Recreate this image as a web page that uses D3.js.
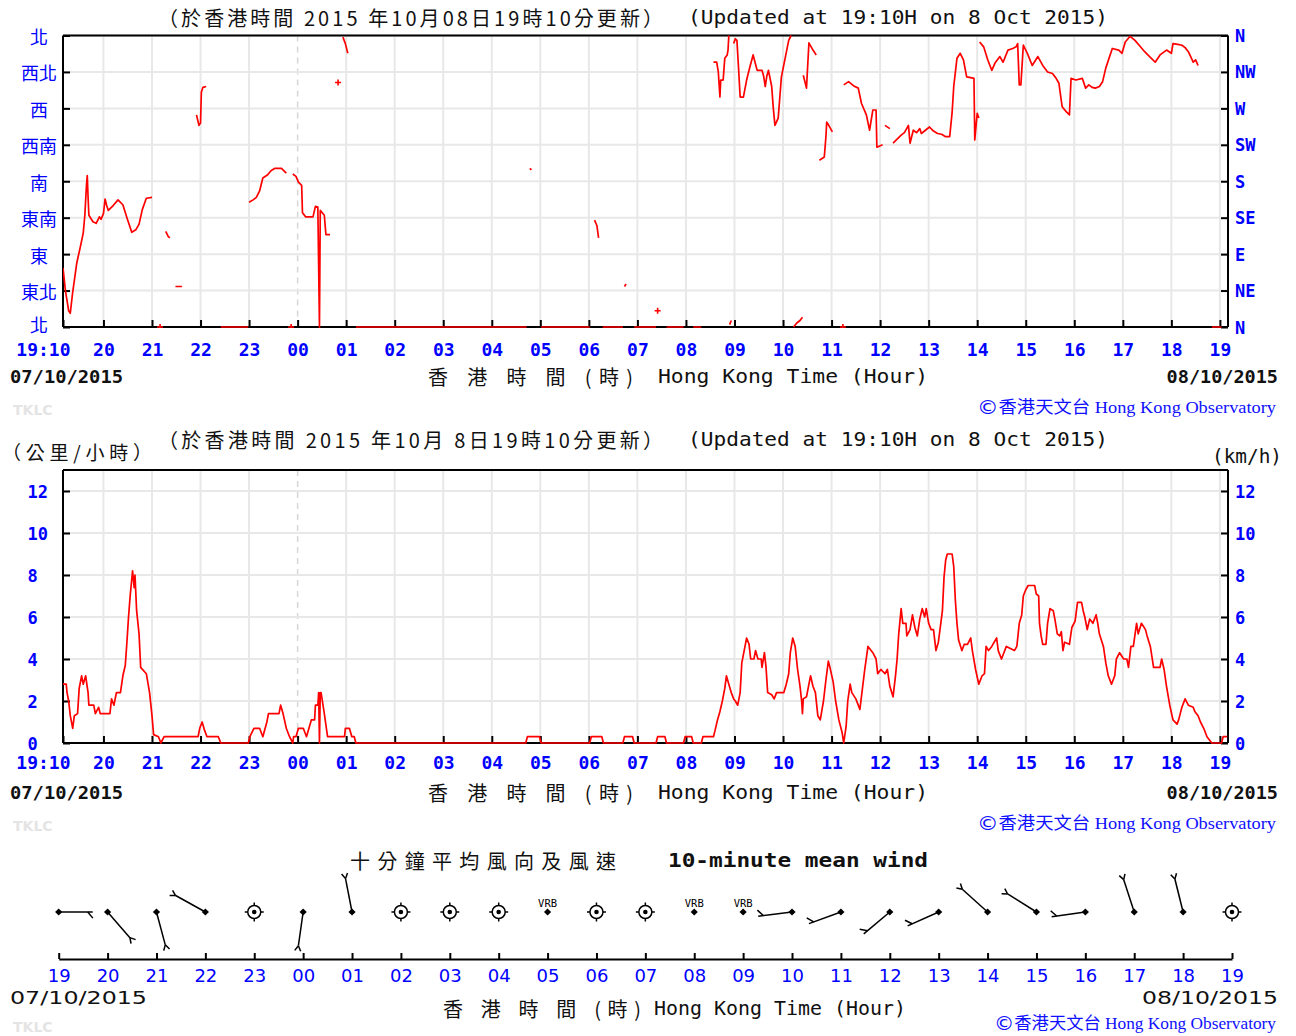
<!DOCTYPE html>
<html>
<head>
<meta charset="utf-8">
<script src="https://cdn.jsdelivr.net/npm/d3@7"></script>
<style>
  body { margin: 0; background: #fff; }
</style>
</head>
<body>
<div id="chart"></div>
<script>
// ---- values ----
var dirTicks = [0, 45, 90, 135, 180, 225, 270, 315, 360];
var dirLabelsCn = ["北", "東北", "東", "東南", "南", "西南", "西", "西北", "北"];
var dirLabelsEn = ["N", "NE", "E", "SE", "S", "SW", "W", "NW", "N"];
var speedTicks = [0, 2, 4, 6, 8, 10, 12];

// wind direction trace (degrees), null = no data
var dirReadings = [
  ["19:10",73],["19:13",45],["19:17",20],["19:19",17],["19:22",43],["19:27",79],["19:31",97],["19:35",116],
  ["19:37",138],["19:39",175],["19:40",187],["19:41",160],["19:42",138],["19:47",130],["19:51",128],["19:55",136],
  ["19:57",133],["20:00",140],["20:02",158],["20:04",150],["20:06",144],["20:12",150],["20:18",157],["20:24",151],
  ["20:29",135],["20:35",117],["20:40",120],["20:44",127],["20:48",145],["20:53",159],["21:00",160],["21:05",null],
  ["21:10",0],["21:12",null],
  ["21:17",118],["21:20",112],["21:22",110],["21:25",null],
  ["21:29",50],["21:37",50],["21:40",null],
  ["21:55",262],["21:58",249],["22:00",252],["22:01",290],["22:03",296],["22:07",297],["22:10",null],
  ["22:25",0],["22:59",0],["22:59",null],
  ["23:00",154],["23:05",157],["23:09",160],["23:13",168],["23:17",184],["23:23",188],["23:27",193],["23:32",196],
  ["23:40",196],["23:46",190],["23:48",null],
  ["23:52",0],["23:53",null],
  ["23:54",189],["23:58",186],["00:01",179],["00:05",175],["00:06",141],["00:10",136],["00:19",136],["00:22",149],
  ["00:25",148],["00:27",0],["00:28",144],["00:33",138],["00:35",114],["00:40",114],["00:42",null],
  ["00:50",302],["00:52",null],
  ["00:56",358],["00:59",350],["01:02",338],["01:05",null],
  ["01:12",0],["04:43",0],["04:45",null],
  ["04:47",196],["04:49",194],["04:50",null],
  ["05:01",0],["06:01",0],["06:03",null],
  ["06:07",132],["06:10",125],["06:12",110],["06:14",null],
  ["06:17",0],["06:42",0],["06:43",null],
  ["06:44",50],["06:46",53],["06:47",null],
  ["06:56",0],["07:23",0],["07:24",null],
  ["07:25",20],["07:26",null],
  ["07:36",0],["07:57",0],["07:58",null],
  ["08:09",0],["08:19",0],["08:20",null],
  ["08:34",327],["08:38",327],["08:40",315],["08:42",284],["08:43",305],["08:46",305],["08:48",332],["08:51",336],
  ["08:52",342],["08:53",360],["08:54",null],
  ["08:54",3],["08:56",8],["08:57",null],
  ["08:59",350],["09:01",356],["09:03",354],["09:05",320],["09:07",284],["09:11",284],["09:15",305],["09:19",321],
  ["09:23",336],["09:28",317],["09:34",317],["09:36",310],["09:38",297],["09:40",310],["09:42",317],["09:46",297],
  ["09:48",270],["09:50",249],["09:54",258],["09:58",309],["10:03",334],["10:07",354],["10:10",360],["10:11",null],
  ["10:13",0],["10:17",5],["10:21",8],["10:24",12],["10:25",null],
  ["10:25",311],["10:29",295],["10:32",351],["10:37",342],["10:41",336],["10:43",null],
  ["10:45",206],["10:51",210],["10:53",235],["10:54",253],["10:56",250],["11:01",241],["11:03",null],
  ["11:14",0],["11:15",null],
  ["11:15",299],["11:21",303],["11:27",298],["11:33",295],["11:37",276],["11:43",262],["11:47",243],["11:51",268],
  ["11:55",268],["11:56",222],["12:03",225],["12:04",null],
  ["12:06",249],["12:12",245],["12:14",null],
  ["12:16",227],["12:21",232],["12:26",237],["12:30",240],["12:35",249],["12:37",227],["12:41",243],["12:45",240],
  ["12:49",245],["12:51",239],["12:56",243],["13:01",247],["13:06",242],["13:11",239],["13:16",238],["13:21",235],
  ["13:26",235],["13:29",265],["13:31",297],["13:35",332],["13:39",338],["13:43",330],["13:47",309],["13:52",308],
  ["13:56",307],["13:57",231],["14:00",264],["14:02",258],["14:02",null],
  ["14:03",352],["14:08",346],["14:13",330],["14:18",317],["14:22",326],["14:28",334],["14:32",327],["14:38",342],
  ["14:44",344],["14:48",346],["14:50",350],["14:52",299],["14:54",299],["14:57",348],["15:02",338],["15:08",323],
  ["15:15",334],["15:21",323],["15:27",315],["15:33",313],["15:37",308],["15:41",301],["15:45",272],["15:50",266],
  ["15:54",262],["15:56",307],["16:02",305],["16:10",307],["16:14",295],["16:18",299],["16:22",296],["16:26",295],
  ["16:31",297],["16:35",303],["16:39",320],["16:47",344],["16:55",342],["16:59",338],["17:03",352],["17:09",359],
  ["17:15",354],["17:21",347],["17:27",340],["17:34",333],["17:40",327],["17:46",336],["17:54",342],["18:00",338],
  ["18:02",350],["18:08",349],["18:13",348],["18:17",345],["18:21",340],["18:27",327],["18:30",330],["18:33",323],
  ["18:35",null],
  ["18:50",0],["19:02",0]
];

// wind speed trace (km/h)
var speedReadings = [
  ["19:10",2.8],["19:14",2.8],["19:15",2.4],["19:17",2.0],["19:19",1.3],["19:22",0.7],["19:24",1.3],["19:28",1.4],
  ["19:30",2.6],["19:33",3.2],["19:35",2.8],["19:38",3.2],["19:41",2.4],["19:42",1.8],["19:48",1.8],["19:50",1.4],
  ["19:54",1.7],["19:56",1.4],["20:08",1.4],["20:10",2.1],["20:13",1.8],["20:16",2.4],["20:21",2.4],["20:24",3.2],
  ["20:27",3.7],["20:29",4.8],["20:31",6.0],["20:33",7.0],["20:36",8.2],["20:38",7.4],["20:39",8.0],["20:41",6.3],
  ["20:44",5.2],["20:46",3.6],["20:53",3.3],["20:57",2.4],["21:00",1.3],["21:02",0.4],["21:08",0.3],["21:11",0],
  ["21:15",0.3],["21:57",0.3],["21:59",0.7],["22:02",1.0],["22:05",0.6],["22:08",0.3],["22:22",0.3],["22:25",0],
  ["22:59",0],["23:01",0.3],["23:06",0.7],["23:13",0.7],["23:17",0.3],["23:22",1.0],["23:24",1.4],["23:37",1.4],
  ["23:39",1.8],["23:42",1.4],["23:46",0.7],["23:50",0.3],["23:54",0],["23:55",0.3],["23:58",0.3],["00:01",0.7],
  ["00:07",0.7],["00:11",0.3],["00:14",0.7],["00:17",1.1],["00:21",1.1],["00:22",1.8],["00:25",1.8],["00:26",2.4],
  ["00:27",0],["00:28",2.4],["00:29",2.4],["00:33",1.4],["00:37",0.3],["00:58",0.3],["00:59",0.7],["01:04",0.7],
  ["01:07",0.3],["01:10",0.3],["01:12",0],
  ["04:42",0],["04:44",0.3],["04:59",0.3],["05:01",0],["06:01",0],["06:03",0.3],["06:16",0.3],["06:18",0],
  ["06:42",0],["06:44",0.3],["06:54",0.3],["06:56",0],["07:23",0],["07:25",0.3],["07:34",0.3],["07:36",0],
  ["07:57",0],["07:59",0.3],["08:07",0.3],["08:09",0],["08:19",0],["08:21",0.3],["08:34",0.3],
  ["08:36",0.6],["08:39",1.1],["08:42",1.5],["08:45",2.0],["08:48",2.6],["08:50",3.2],["08:53",2.8],["08:56",2.4],
  ["08:59",2.1],["09:01",2.0],["09:04",1.8],["09:07",2.4],["09:09",3.8],["09:13",4.6],["09:15",5.0],["09:18",4.7],
  ["09:20",4.0],["09:24",4.0],["09:26",4.4],["09:29",4.0],["09:33",4.0],["09:34",3.6],["09:37",4.3],["09:39",3.6],
  ["09:41",2.4],["09:46",2.3],["09:49",2.1],["09:52",2.4],["10:01",2.4],["10:04",2.8],["10:07",3.3],["10:09",4.3],
  ["10:12",5.0],["10:15",4.6],["10:18",3.5],["10:21",2.7],["10:23",2.0],["10:24",1.4],["10:25",2.1],["10:29",2.2],
  ["10:32",2.8],["10:34",3.2],["10:37",2.7],["10:40",2.4],["10:43",1.3],["10:46",1.1],["10:50",2.0],["10:53",3.0],
  ["10:56",3.9],["10:58",3.6],["11:02",2.9],["11:05",2.0],["11:09",1.1],["11:13",0.5],["11:15",0],["11:18",0.8],
  ["11:20",2.0],["11:23",2.8],["11:25",2.4],["11:30",2.1],["11:35",1.6],["11:41",3.5],["11:45",4.6],["11:51",4.3],
  ["11:55",4.0],["11:57",3.3],["12:01",3.5],["12:06",3.3],["12:09",3.5],["12:12",2.7],["12:16",2.2],["12:19",3.2],
  ["12:21",4.0],["12:23",5.2],["12:26",6.4],["12:28",5.7],["12:32",5.7],["12:33",5.1],["12:37",5.4],["12:40",6.1],
  ["12:43",5.5],["12:46",5.1],["12:49",5.9],["12:52",6.4],["12:55",6.0],["12:57",6.4],["13:00",5.7],["13:03",5.4],
  ["13:06",5.4],["13:09",4.4],["13:12",4.8],["13:15",5.7],["13:17",6.3],["13:19",7.9],["13:21",8.7],["13:23",9.0],
  ["13:29",9.0],["13:31",8.4],["13:33",6.8],["13:35",5.7],["13:37",4.9],["13:41",4.4],["13:44",4.7],["13:48",4.7],
  ["13:52",5.0],["13:54",4.4],["13:58",3.5],["14:02",2.8],["14:06",3.2],["14:09",3.3],["14:11",4.6],["14:14",4.4],
  ["14:18",4.6],["14:24",5.0],["14:26",4.4],["14:30",4.0],["14:33",4.3],["14:36",4.6],["14:46",4.4],["14:49",4.6],
  ["14:52",5.7],["14:55",6.1],["14:57",7.0],["15:00",7.3],["15:03",7.5],["15:11",7.5],["15:13",7.1],["15:16",7.0],
  ["15:17",5.7],["15:19",5.1],["15:21",4.7],["15:25",4.7],["15:27",5.7],["15:30",6.4],["15:34",6.3],["15:36",5.9],
  ["15:39",5.2],["15:42",5.1],["15:44",5.3],["15:46",4.4],["15:48",4.8],["15:54",4.7],["15:57",5.5],["16:01",5.8],
  ["16:04",6.7],["16:09",6.7],["16:11",6.3],["16:13",6.0],["16:16",5.4],["16:19",5.9],["16:23",5.7],["16:27",6.1],
  ["16:29",5.7],["16:31",5.2],["16:36",4.6],["16:39",3.8],["16:42",3.2],["16:46",2.8],["16:50",3.2],["16:52",4.0],
  ["16:56",4.3],["17:01",4.0],["17:05",4.0],["17:07",3.6],["17:10",4.6],["17:13",4.6],["17:17",5.7],["17:19",5.2],
  ["17:23",5.7],["17:28",5.4],["17:30",5.1],["17:34",4.6],["17:38",3.6],["17:46",3.6],["17:48",4.0],["17:51",3.5],
  ["17:54",2.7],["17:58",1.8],["18:02",1.1],["18:07",0.9],["18:09",1.1],["18:13",1.7],["18:17",2.1],["18:21",1.8],
  ["18:27",1.7],["18:29",1.5],["18:33",1.3],["18:36",1.0],["18:40",0.7],["18:44",0.3],["18:50",0],["19:02",0],
  ["19:04",0.3],["19:09",0.3]
];

// hourly 10-minute mean wind: direction (deg) or "calm" / "VRB", and number of barb strokes
var windHours = ["19","20","21","22","23","00","01","02","03","04","05","06","07","08","09","10","11","12","13","14","15","16","17","18","19"];
var windDirs = [90, 139, 165, 299, "calm", 188, 349, "calm", "calm", "calm", "VRB", "calm", "calm", "VRB", "VRB",
                263, 250, 230, 246, 312, 302, 262, 342, 346, "calm"];
var windBarbs = [1, 2, 2, 2, 0, 2, 2, 0, 0, 0, 0, 0, 0, 0, 0, 1, 1, 1, 1, 2, 2, 1, 2, 2, 0];

// ---- drawing ----
var W = 1296, H = 1036;
var left = 63, right = 1228;
var blue = "#0000ff";
var cjk = "'Noto Sans CJK TC','Noto Sans CJK SC',sans-serif";
var mono = "'DejaVu Sans Mono',monospace";
var sans = "'DejaVu Sans',sans-serif";
var serif = "'Liberation Serif','Noto Sans CJK TC',serif";

var svg = d3.select("#chart").append("svg").attr("width", W).attr("height", H);
svg.append("rect").attr("width", W).attr("height", H).attr("fill", "#fff");

var t0 = new Date(2015, 9, 7, 19, 10), t1 = new Date(2015, 9, 8, 19, 10);
function parseT(s) {
  var p = s.split(":"), h = +p[0], m = +p[1];
  return new Date(2015, 9, (h * 60 + m >= 19 * 60 + 10) ? 7 : 8, h, m);
}
var x = d3.scaleTime().domain([t0, t1]).range([left, right]);
var hours = d3.timeHour.range(new Date(2015, 9, 7, 20), new Date(2015, 9, 8, 19, 1));

function txt(g, s, px, py, o) {
  o = o || {};
  var t = g.append("text").attr("x", px).attr("y", py)
    .attr("dominant-baseline", "central")
    .attr("text-anchor", o.anchor || "start")
    .attr("fill", o.fill || "#111")
    .style("font-family", o.font || mono)
    .style("font-size", (o.size || 18) + "px")
    .style("font-weight", o.bold ? "bold" : "normal")
    .text(s);
  if (o.len) t.attr("textLength", o.len).attr("lengthAdjust", o.adjust || "spacing");
  return t;
}

function titleLine(cy, cnText) {
  txt(svg, cnText, 158, cy, {font: cjk, size: 20, len: 505});
  txt(svg, "(Updated at 19:10H on 8 Oct 2015)", 688, cy, {size: 20, len: 420, adjust: "spacingAndGlyphs"});
}

function credit(cx, cy, len) {
  var t = svg.append("text").attr("x", cx).attr("y", cy).attr("dominant-baseline", "central")
    .attr("fill", "#1010ff").style("font-family", serif).style("font-size", "17px")
    .attr("textLength", len).attr("lengthAdjust", "spacingAndGlyphs");
  t.append("tspan").style("font-size", "20px").style("font-family", sans).text("©");
  t.append("tspan").text("香港天文台 Hong Kong Observatory");
}

function footer(labelY, creditY) {
  txt(svg, "07/10/2015", 10, labelY, {size: 18.5, bold: true, len: 113, adjust: "spacingAndGlyphs"});
  txt(svg, "08/10/2015", 1278, labelY, {size: 18.5, bold: true, anchor: "end"});
  txt(svg, "香 港 時 間 (時)", 428, labelY, {font: cjk, size: 20, len: 205});
  txt(svg, "Hong Kong Time (Hour)", 658, labelY, {size: 20, len: 270, adjust: "spacingAndGlyphs"});
  txt(svg, "TKLC", 13, creditY + 3, {font: sans, size: 14, bold: true, fill: "#e4e4e4"});
  credit(977, creditY, 299);
}

function panel(top, bottom, y, ticks, o) {
  var g = svg.append("g");
  // grid
  g.selectAll(".vgrid").data(hours).enter().append("line")
    .attr("x1", d => x(d)).attr("x2", d => x(d)).attr("y1", top).attr("y2", bottom)
    .attr("stroke", d => d.getHours() === 0 ? "#d6d6d6" : "#e8e8e8")
    .attr("stroke-width", d => d.getHours() === 0 ? 1.5 : 2)
    .attr("stroke-dasharray", d => d.getHours() === 0 ? "6,5" : null);
  g.selectAll(".hgrid").data(ticks.slice(1)).enter().append("line")
    .attr("x1", left).attr("x2", right).attr("y1", d => y(d)).attr("y2", d => y(d))
    .attr("stroke", "#e8e8e8").attr("stroke-width", 2);

  // frame
  [[left, top, right, top], [left, bottom, right, bottom], [left, top, left, bottom], [right, top, right, bottom]]
    .forEach(function (s) {
      g.append("line").attr("x1", s[0]).attr("y1", s[1]).attr("x2", s[2]).attr("y2", s[3])
        .attr("stroke", "#000").attr("stroke-width", 2);
    });

  // x axis
  var xa = g.append("g").attr("transform", "translate(0," + bottom + ")")
    .call(d3.axisBottom(x).tickValues([t0].concat(hours)).tickSize(-7)
      .tickFormat((d, i) => i === 0 ? "19:10" : d3.timeFormat("%H")(d)));
  xa.select(".domain").remove();
  xa.selectAll("line").attr("stroke", "#000").attr("stroke-width", 2);
  xa.selectAll("text").attr("y", o.labelY - bottom).attr("dy", null)
    .attr("dominant-baseline", "central").attr("fill", blue)
    .style("font-family", mono).style("font-size", "18px").style("font-weight", "bold");
  xa.selectAll("text").filter((d, i) => i === 0).attr("text-anchor", "end").attr("x", 7);

  // left axis
  var ya = g.append("g").attr("transform", "translate(" + left + ",0)")
    .call(d3.axisLeft(y).tickValues(ticks).tickSize(-7).tickFormat((d, i) => o.leftLabels[i]));
  ya.select(".domain").remove();
  ya.selectAll("line").attr("stroke", "#000").attr("stroke-width", 2);
  ya.selectAll("text").attr("dy", null).attr("dominant-baseline", "central").attr("fill", blue)
    .attr("x", o.leftX - left).attr("text-anchor", o.leftAnchor)
    .style("font-family", o.leftFont).style("font-size", o.leftSize + "px")
    .style("font-weight", o.leftBold ? "bold" : "normal");
  if (o.lowLabelShift) ya.selectAll("text").filter(d => d === ticks[0]).attr("y", -o.lowLabelShift);

  // right axis
  var yr = g.append("g").attr("transform", "translate(" + right + ",0)")
    .call(d3.axisRight(y).tickValues(ticks).tickSize(-7).tickFormat((d, i) => o.rightLabels[i]));
  yr.select(".domain").remove();
  yr.selectAll("line").attr("stroke", "#000").attr("stroke-width", 2);
  yr.selectAll("text").attr("dy", null).attr("dominant-baseline", "central").attr("fill", blue)
    .attr("x", 7).style("font-family", mono).style("font-size", "17px").style("font-weight", "bold");

  // data
  var clipId = "clip" + Math.round(top);
  svg.append("clipPath").attr("id", clipId).append("rect")
    .attr("x", left).attr("y", top - 2).attr("width", right - left + 1).attr("height", bottom - top + 3);
  var pts = o.data.map(d => ({t: parseT(d[0]), v: d[1]}));
  var line = d3.line().defined(d => d.v != null).x(d => x(d.t)).y(d => y(d.v));
  var dg = g.append("g").attr("clip-path", "url(#" + clipId + ")");
  dg.append("path").datum(pts).attr("d", line).attr("fill", "none")
    .attr("stroke", "#ff0000").attr("stroke-width", 1.7).attr("stroke-linejoin", "round");
  // isolated single readings drawn as small crosses
  pts.forEach(function (d, i) {
    var prev = pts[i - 1], next = pts[i + 1];
    if (d.v != null && (!prev || prev.v == null) && (!next || next.v == null)) {
      var px = x(d.t), py = y(d.v);
      dg.append("path").attr("d", "M" + (px - 3) + "," + py + "H" + (px + 3) + "M" + px + "," + (py - 3) + "V" + (py + 3))
        .attr("stroke", "#ff0000").attr("stroke-width", 1.6);
    }
  });
}

// ---- panel 1: direction ----
titleLine(17, "（於香港時間 2015 年10月08日19時10分更新）");
var yDir = d3.scaleLinear().domain([0, 360]).range([327, 35.5]);
panel(35.5, 327, yDir, dirTicks, {
  data: dirReadings, labelY: 349,
  leftLabels: dirLabelsCn, rightLabels: dirLabelsEn,
  leftX: 39, leftAnchor: "middle", leftFont: cjk, leftSize: 18, leftBold: false, lowLabelShift: 4
});
footer(376, 407);

// ---- panel 2: speed ----
titleLine(439, "（於香港時間 2015 年10月 8日19時10分更新）");
txt(svg, "（公里/小時）", 2, 451, {font: cjk, size: 19, len: 150});
txt(svg, "(km/h)", 1212, 456, {size: 19, len: 70, adjust: "spacingAndGlyphs"});
var ySpd = d3.scaleLinear().domain([0, 13]).range([743, 470]);
panel(470, 743, ySpd, speedTicks, {
  data: speedReadings, labelY: 762,
  leftLabels: speedTicks.map(String), rightLabels: speedTicks.map(String),
  leftX: 27.5, leftAnchor: "start", leftFont: mono, leftSize: 17, leftBold: true
});
footer(792, 823);

// ---- panel 3: hourly mean wind ----
txt(svg, "十分鐘平均風向及風速", 350, 860, {font: cjk, size: 20, len: 266});
txt(svg, "10-minute mean wind", 668, 860, {size: 20, bold: true, len: 260, adjust: "spacingAndGlyphs"});

var wx = d3.scaleLinear().domain([0, 24]).range([58.7, 1232]);
var wAxis = svg.append("g").attr("transform", "translate(0,959)")
  .call(d3.axisBottom(wx).tickValues(d3.range(25)).tickSize(-6).tickSizeOuter(0)
    .tickFormat(i => windHours[i]));
wAxis.select(".domain").attr("stroke", "#000").attr("stroke-width", 2);
wAxis.selectAll("line").attr("stroke", "#000").attr("stroke-width", 2);
wAxis.selectAll("text").attr("y", 16).attr("dy", null).attr("dominant-baseline", "central")
  .attr("fill", blue).style("font-family", sans).style("font-size", "18px");

var wg = svg.append("g").attr("stroke", "#000").attr("stroke-width", 1.5).attr("fill", "none");
var cy = 912, shaft = 34;
function rot(u, deg) {
  var a = deg * Math.PI / 180;
  return [u[0] * Math.cos(a) - u[1] * Math.sin(a), u[0] * Math.sin(a) + u[1] * Math.cos(a)];
}
windDirs.forEach(function (d, i) {
  var cx = wx(i);
  if (d === "calm") {
    wg.append("circle").attr("cx", cx).attr("cy", cy).attr("r", 6.5);
    wg.append("circle").attr("cx", cx).attr("cy", cy).attr("r", 2.3).attr("fill", "#000").attr("stroke", "none");
    [[0, -1], [0, 1], [-1, 0], [1, 0]].forEach(function (v) {
      wg.append("line").attr("x1", cx + v[0] * 6.5).attr("y1", cy + v[1] * 6.5)
        .attr("x2", cx + v[0] * 9.5).attr("y2", cy + v[1] * 9.5);
    });
    return;
  }
  wg.append("path").attr("d", "M" + (cx - 3.6) + "," + cy + "L" + cx + "," + (cy - 3.6) + "L" + (cx + 3.6) + "," + cy +
    "L" + cx + "," + (cy + 3.6) + "Z").attr("fill", "#000").attr("stroke", "none");
  if (d === "VRB") {
    txt(svg, "VRB", cx, 903, {font: mono, size: 10.5, anchor: "middle", fill: "#000"});
    return;
  }
  var a = d * Math.PI / 180, u = [Math.sin(a), -Math.cos(a)];
  var tip = [cx + u[0] * shaft, cy + u[1] * shaft];
  wg.append("line").attr("x1", cx).attr("y1", cy).attr("x2", tip[0]).attr("y2", tip[1]);
  if (windBarbs[i] === 1) {
    var s = [cx + u[0] * (shaft - 5), cy + u[1] * (shaft - 5)], r = rot(u, 50);
    wg.append("line").attr("x1", s[0]).attr("y1", s[1]).attr("x2", s[0] + r[0] * 8).attr("y2", s[1] + r[1] * 8);
  } else if (windBarbs[i] === 2) {
    [30, -30].forEach(function (ang) {
      var r = rot(u, ang);
      wg.append("line").attr("x1", tip[0]).attr("y1", tip[1]).attr("x2", tip[0] + r[0] * 6).attr("y2", tip[1] + r[1] * 6);
    });
  }
});

txt(svg, "07/10/2015", 10, 997, {font: sans, size: 18, len: 137, adjust: "spacingAndGlyphs"});
txt(svg, "08/10/2015", 1142, 997, {font: sans, size: 18, len: 136, adjust: "spacingAndGlyphs"});
txt(svg, "香 港 時 間 (時)", 443, 1008, {font: cjk, size: 20, len: 198});
txt(svg, "Hong Kong Time (Hour)", 654, 1008, {size: 20, len: 252, adjust: "spacingAndGlyphs"});
txt(svg, "TKLC", 13, 1027, {font: sans, size: 14, bold: true, fill: "#e4e4e4"});
credit(994, 1023, 282);
</script>
</body>
</html>
